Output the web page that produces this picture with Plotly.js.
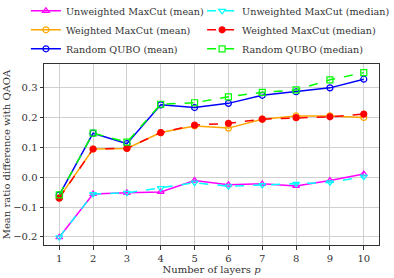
<!DOCTYPE html>
<html><head><meta charset="utf-8">
<script src="https://cdn.plot.ly/plotly-3.0.1.min.js"></script>
<style>html,body{margin:0;padding:0;background:#fff}#chart{width:394px;height:278px}</style>
</head><body><div id="chart"></div>
<script>
const layers = [1,2,3,4,5,6,7,8,9,10];
const unweightedMean   = [-0.201,-0.056,-0.052,-0.049,-0.011,-0.025,-0.022,-0.029,-0.011,0.011];
const unweightedMedian = [-0.201,-0.056,-0.052,-0.036,-0.018,-0.030,-0.026,-0.022,-0.017,0.002];
const weightedMean     = [-0.068,0.095,0.097,0.150,0.172,0.165,0.195,0.206,0.206,0.201];
const weightedMedian   = [-0.070,0.095,0.097,0.150,0.175,0.181,0.195,0.200,0.203,0.212];
const quboMean         = [-0.060,0.148,0.113,0.243,0.234,0.248,0.275,0.287,0.300,0.329];
const quboMedian       = [-0.059,0.148,0.118,0.245,0.250,0.270,0.285,0.293,0.327,0.351];
const xTicks = [1,2,3,4,5,6,7,8,9,10];
const yTicks = [-0.2,-0.1,0.0,0.1,0.2,0.3];
const yTickText = ['\u22120.2','\u22120.1','0.0','0.1','0.2','0.3'];

function tr(name, y, color, symbol, dash, leg){
  return {x: layers, y: y, name: name, type:'scatter', mode:'lines+markers', legend: leg,
    line:{color:color, width:1.5, dash:dash},
    marker:{symbol:symbol, size:6, color:color, line:{color:color, width:1.2}}};
}
const data = [
  tr('Unweighted MaxCut (mean)', unweightedMean, '#ff00ff', 'triangle-up-open', 'solid', 'legend'),
  tr('Weighted MaxCut (mean)', weightedMean, '#ffa500', 'circle-open', 'solid', 'legend'),
  tr('Random QUBO (mean)', quboMean, '#0000ff', 'circle-open', 'solid', 'legend'),
  tr('Unweighted MaxCut (median)', unweightedMedian, '#00ffff', 'triangle-down-open', 'dash', 'legend2'),
  tr('Weighted MaxCut (median)', weightedMedian, '#ff0000', 'circle', 'dash', 'legend2'),
  tr('Random QUBO (median)', quboMedian, '#00ff00', 'square-open', 'dash', 'legend2')
];
const serif = 'DejaVu Serif, serif';
const legFont = {family:serif, size:9.6, color:'#333'};
const layout = {
  width:394, height:278,
  margin:{l:44, r:15, t:64, b:33, autoexpand:false},
  paper_bgcolor:'#fff', plot_bgcolor:'#fff',
  font: {family:serif, size:10, color:'#333'},
  showlegend:true,
  legend:{x:-0.054, y:1.374, xanchor:'left', yanchor:'top', font:legFont, itemwidth:30,
    bgcolor:'rgba(0,0,0,0)', tracegroupgap:0},
  legend2:{x:0.472, y:1.374, xanchor:'left', yanchor:'top', font:legFont, itemwidth:30,
    bgcolor:'rgba(0,0,0,0)', tracegroupgap:0},
  xaxis:{range:[0.55,10.45], tickvals:xTicks, ticks:'outside', ticklen:3.5, tickcolor:'#333',
    showgrid:true, gridcolor:'#d0d0d0', gridwidth:1, zeroline:false,
    showline:true, linecolor:'#333', linewidth:1, mirror:true,
    title:{text:'Number of layers <i>p</i>', standoff:2, font:{family:serif, size:10, color:'#333'}}},
  yaxis:{range:[-0.227,0.380], tickvals:yTicks, ticktext:yTickText, ticks:'outside', ticklen:3.5, tickcolor:'#333',
    showgrid:true, gridcolor:'#d0d0d0', gridwidth:1, zeroline:false,
    showline:true, linecolor:'#333', linewidth:1, mirror:true,
    title:{text:'Mean ratio difference with QAOA', standoff:0, font:{family:serif, size:10, color:'#333'}}}
};
Plotly.newPlot('chart', data, layout, {displayModeBar:false, staticPlot:true});
</script></body></html>
